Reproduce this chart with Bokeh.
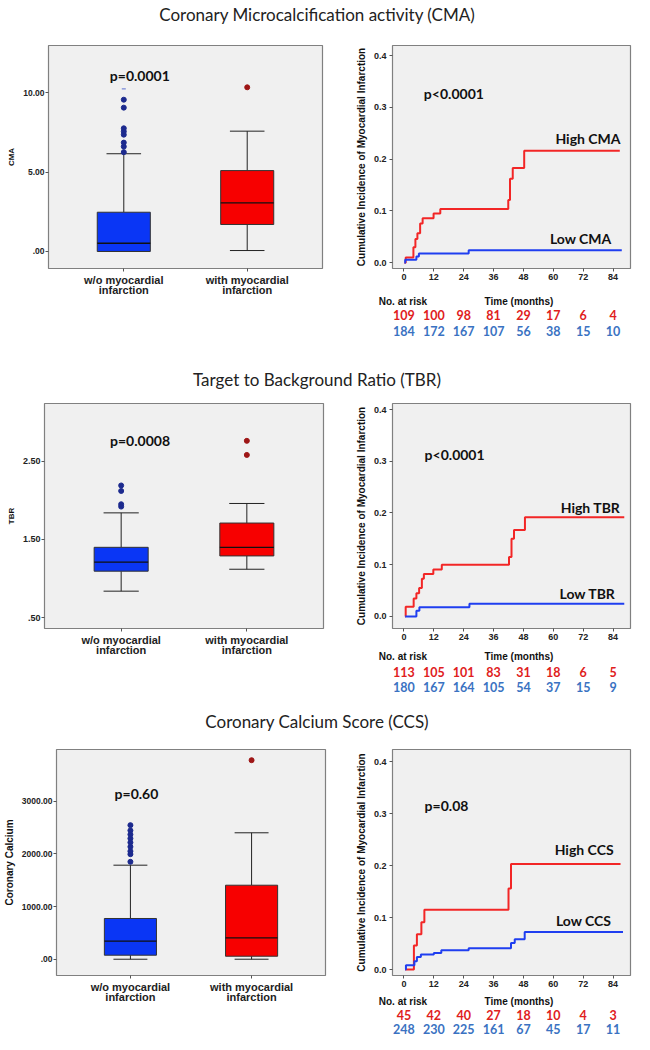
from bokeh.plotting import figure
from bokeh.layouts import column, row
from bokeh.models import (Div, ColumnDataSource, FixedTicker, Range1d, NumeralTickFormatter,
                          LinearAxis)
from bokeh.embed import file_html
from bokeh.resources import INLINE
from bokeh.core.properties import value

# ---------------- data ----------------
titles = ["Coronary Microcalcification activity (CMA)",
          "Target to Background Ratio (TBR)",
          "Coronary Calcium Score (CCS)"]
groups = ["w/o myocardial\ninfarction", "with myocardial\ninfarction"]

# box statistics: [w/o MI, with MI]
cma_q1 = [0.0, 1.70]
cma_med = [0.52, 3.06]
cma_q3 = [2.47, 5.09]
cma_lo = [0.0, 0.06]
cma_hi = [6.15, 7.57]
cma_out_wo = [6.25, 6.6, 6.85, 7.35, 7.55, 7.75, 9.05, 9.55]
cma_out_with = [10.33]
cma_extreme_wo = [10.23]
cma_ticks = [0, 5, 10]
cma_tick_labels = [".00", "5.00", "10.00"]

tbr_q1 = [1.095, 1.29]
tbr_med = [1.21, 1.40]
tbr_q3 = [1.40, 1.71]
tbr_lo = [0.84, 1.12]
tbr_hi = [1.84, 1.96]
tbr_out_wo = [1.92, 1.95, 2.12, 2.19]
tbr_out_with = [2.58, 2.76]
tbr_ticks = [0.5, 1.5, 2.5]
tbr_tick_labels = [".50", "1.50", "2.50"]

ccs_q1 = [76, 57]
ccs_med = [342, 406]
ccs_q3 = [773, 1405]
ccs_lo = [0, 0]
ccs_hi = [1785, 2400]
ccs_out_wo = [1849, 1994, 2051, 2134, 2216, 2292, 2368, 2444, 2545]
ccs_out_with = [3778]
ccs_ticks = [0, 1000, 2000, 3000]
ccs_tick_labels = [".00", "1000.00", "2000.00", "3000.00"]

box_pvals = ["p=0.0001", "p=0.0008", "p=0.60"]

# Kaplan-Meier cumulative incidence (months, value)
km_ticks = [0, 12, 24, 36, 48, 60, 72, 84]

cma_high_t = [0.2, 0.7, 3.8, 4.6, 5.4, 6.5, 7.5, 11.9, 14.6, 41.9, 42.6, 43.7, 48.3, 86.7]
cma_high_y = [0, 0.010, 0.030, 0.046, 0.057, 0.076, 0.086, 0.095, 0.104, 0.121, 0.162, 0.183, 0.216, 0.216]
cma_low_t = [0.2, 0.5, 5.0, 6.0, 26.0, 87.5]
cma_low_y = [0, 0.006, 0.012, 0.018, 0.024, 0.024]

tbr_high_t = [0.5, 0.7, 3.9, 5.0, 6.1, 7.2, 8.0, 11.8, 15.2, 42.2, 43.2, 44.2, 48.6, 88.5]
tbr_high_y = [0, 0.019, 0.035, 0.045, 0.055, 0.073, 0.082, 0.091, 0.100, 0.115, 0.150, 0.167, 0.192, 0.192]
tbr_low_t = [0.5, 5.0, 6.2, 26.3, 88.5]
tbr_low_y = [0, 0.011, 0.018, 0.0245, 0.0245]

ccs_high_t = [0.5, 4.0, 5.2, 7.0, 8.2, 42.0, 43.0, 87.0]
ccs_high_y = [0, 0.046, 0.068, 0.091, 0.115, 0.156, 0.203, 0.203]
ccs_low_t = [0.5, 0.8, 4.2, 5.2, 6.8, 12.0, 15.0, 26.0, 43.0, 44.5, 48.5, 88.0]
ccs_low_y = [0, 0.008, 0.016, 0.024, 0.029, 0.032, 0.037, 0.041, 0.051, 0.058, 0.072, 0.072]

cma_risk_high = [109, 100, 98, 81, 29, 17, 6, 4]
cma_risk_low = [184, 172, 167, 107, 56, 38, 15, 10]
tbr_risk_high = [113, 105, 101, 83, 31, 18, 6, 5]
tbr_risk_low = [180, 167, 164, 105, 54, 37, 15, 9]
ccs_risk_high = [45, 42, 40, 27, 18, 10, 4, 3]
ccs_risk_low = [248, 230, 225, 161, 67, 45, 17, 11]

km_pvals = ["p<0.0001", "p<0.0001", "p=0.08"]
km_high_names = ["High CMA", "High TBR", "High CCS"]
km_low_names = ["Low CMA", "Low TBR", "Low CCS"]
km_row_titles = ["No. at risk", "Time (months)"]

# ---------------- styles ----------------
BG = "#f0f0f0"
FRAME = "#808080"
BLUE_BOX = "#0a36f5"
RED_BOX = "#f70000"
BLUE_DOT = "#1c2a8e"
RED_DOT = "#9e1616"
RED_LINE = "#f22626"
BLUE_LINE = "#1f3ef0"
RED_TXT = "#e0201c"
BLUE_TXT = "#3a72c2"
SANS = "Liberation Sans"
CAL = "Lato"

BOX_W = 348            # width of each box-plot figure
KM_BL, KM_BR = 44, 4
KM_FW = 634 - BOX_W - KM_BL - KM_BR
KM_X = (-4.6, 91.0)
NAR_X = -0.4           # tick position of the "No. at risk" caption
TIME_X = 46.2          # tick position of the "Time (months)" caption


def style_axis(ax, tick_size, label_size="9px"):
    ax.axis_line_color = None
    ax.major_tick_out = 3
    ax.major_tick_in = 0
    ax.minor_tick_line_color = None
    ax.major_tick_line_color = "#555555"
    ax.major_label_text_font = SANS
    ax.major_label_text_font_style = "bold"
    ax.major_label_text_font_size = tick_size
    ax.major_label_text_color = "#222222"
    ax.major_label_standoff = 2
    ax.axis_label_text_font = SANS
    ax.axis_label_text_font_style = "bold"
    ax.axis_label_text_font_size = label_size
    ax.axis_label_text_color = "#111111"


def style_axes(p, tick_size="8.5px", label_size="9px"):
    for ax in (p.xaxis + p.yaxis):
        style_axis(ax, tick_size, label_size)
    p.xgrid.grid_line_color = None
    p.ygrid.grid_line_color = None


def make_fig(fw, fh, yr, xr, borders):
    t, b, l, r = borders
    p = figure(width=l + fw + r, height=t + fh + b,
               x_range=Range1d(*xr), y_range=Range1d(*yr),
               output_backend="svg", toolbar_location=None,
               background_fill_color=BG, border_fill_color="white",
               outline_line_color=FRAME, outline_line_width=1.2,
               min_border=0, min_border_top=t, min_border_bottom=b,
               min_border_left=l, min_border_right=r)
    return p


def box_panel(q1, med, q3, lo, hi, out_wo, out_with, ticks, tick_labels, ylabel,
              yr, pval, pval_xy, left, fh, top, bottom, tick_size, label_size, extreme=None):
    fw = 274 if left == 48 else (279 if left == 44 else 272)
    p = make_fig(fw, fh, yr, (0.39, 2.61), (top, bottom, left, BOX_W - left - fw))
    xs = [1, 2]
    bw = 0.43
    cw = 0.14
    src = ColumnDataSource(dict(x=xs, q1=q1, q3=q3, med=med, lo=lo, hi=hi,
                                c=[BLUE_BOX, RED_BOX],
                                xl=[x - bw / 2 for x in xs], xr=[x + bw / 2 for x in xs],
                                cl=[x - cw for x in xs], cr=[x + cw for x in xs]))
    p.segment(x0="x", y0="q3", x1="x", y1="hi", source=src, line_color="#222222", line_width=1)
    p.segment(x0="x", y0="lo", x1="x", y1="q1", source=src, line_color="#222222", line_width=1)
    p.segment(x0="cl", y0="hi", x1="cr", y1="hi", source=src, line_color="#222222", line_width=1)
    p.segment(x0="cl", y0="lo", x1="cr", y1="lo", source=src, line_color="#222222", line_width=1)
    p.vbar(x="x", width=bw, bottom="q1", top="q3", fill_color="c", line_color="#333333",
           line_width=1, source=src)
    p.segment(x0="xl", y0="med", x1="xr", y1="med", source=src, line_color="#111111", line_width=1.3)
    p.scatter([1] * len(out_wo), out_wo, size=5, fill_color=BLUE_DOT, line_color=BLUE_DOT)
    p.scatter([2] * len(out_with), out_with, size=5, fill_color=RED_DOT, line_color=RED_DOT)
    if extreme:
        p.scatter([1] * len(extreme), extreme, marker="dash", size=4, line_color="#5b6fd0",
                  line_width=1)
    p.text(x=[pval_xy[0]], y=[pval_xy[1]], text=[pval], text_font=value(CAL),
           text_font_style="bold", text_font_size="14px", text_align="center",
           text_baseline="middle", text_color="#111111")
    style_axes(p, tick_size, label_size)
    p.xaxis.ticker = FixedTicker(ticks=xs)
    p.xaxis.major_label_overrides = {xs[i]: groups[i] for i in range(2)}
    p.xaxis.major_label_text_font_size = "11px"
    p.xaxis.major_label_text_line_height = 0.85
    p.yaxis.ticker = FixedTicker(ticks=ticks)
    p.yaxis.major_label_overrides = {ticks[i]: tick_labels[i] for i in range(len(ticks))}
    p.yaxis.axis_label = ylabel
    p.yaxis.axis_label_standoff = 4
    p.yaxis.major_label_standoff = 1
    return p


def text_axis(ticks, labels, standoff, size, font, color):
    ax = LinearAxis(ticker=FixedTicker(ticks=ticks),
                    major_label_overrides={ticks[i]: labels[i] for i in range(len(ticks))})
    style_axis(ax, size)
    ax.major_tick_line_color = None
    ax.major_tick_out = 0
    ax.major_label_standoff = standoff
    ax.major_label_text_font = font
    ax.major_label_text_color = color
    return ax


def km_panel(ht, hy, lt, ly, rh, rl, hname, lname, pval, pval_xy, hxy, lxy, yr, fh, top, bottom,
             standoffs):
    p = make_fig(KM_FW, fh, yr, KM_X, (top, bottom, KM_BL, KM_BR))
    p.step(ht, hy, mode="after", line_color=RED_LINE, line_width=2)
    p.step(lt, ly, mode="after", line_color=BLUE_LINE, line_width=2)
    p.text(x=[pval_xy[0]], y=[pval_xy[1]], text=[pval], text_font=value(CAL),
           text_font_style="bold", text_font_size="14px", text_align="left",
           text_baseline="middle", text_color="#111111")
    p.text(x=[hxy[0], lxy[0]], y=[hxy[1], lxy[1]], text=[hname, lname],
           text_font=value(CAL), text_font_style="bold", text_font_size="14px",
           text_align="right", text_baseline="middle", text_color="#111111")
    style_axes(p, "9px", "10px")
    p.xaxis.ticker = FixedTicker(ticks=km_ticks)
    p.yaxis.ticker = FixedTicker(ticks=[0, 0.1, 0.2, 0.3, 0.4])
    p.yaxis.formatter = NumeralTickFormatter(format="0.0")
    p.yaxis.axis_label = "Cumulative Incidence of Myocardial Infarction"
    p.yaxis.axis_label_standoff = 4
    p.yaxis.major_label_standoff = 3
    # caption row, then the two number-at-risk rows, aligned on the month ticks
    p.add_layout(text_axis([NAR_X, TIME_X], km_row_titles, standoffs[0], "10px", SANS,
                           "#111111"), "below")
    p.add_layout(text_axis(km_ticks, [str(v) for v in rh], standoffs[1], "12.5px", CAL,
                           RED_TXT), "below")
    p.add_layout(text_axis(km_ticks, [str(v) for v in rl], standoffs[2], "12.5px", CAL,
                           BLUE_TXT), "below")
    return p


def title_div(txt, h):
    return Div(text=txt, width=634, height=h, margin=0,
               styles={"font-family": CAL, "font-size": "17px", "text-align": "center",
                       "line-height": f"{h}px", "color": "#222222", "width": "634px"})


# row 1: frame 45..268 (row starts at 30, height 338)
box1 = box_panel(cma_q1, cma_med, cma_q3, cma_lo, cma_hi, cma_out_wo, cma_out_with,
                 cma_ticks, cma_tick_labels, "CMA", (-1.07, 12.96), box_pvals[0], (1.13, 11.07),
                 48, 223, 15, 100, "8.5px", "8px", extreme=cma_extreme_wo)
km1 = km_panel(cma_high_t, cma_high_y, cma_low_t, cma_low_y, cma_risk_high, cma_risk_low,
               km_high_names[0], km_low_names[0], km_pvals[0], (8.0, 0.327),
               (87.0, 0.240), (83.4, 0.047), (-0.011, 0.4193), 223, 15, 100, (13, 0, 3))

# row 2: frame 403..628 (row starts at 392, height 318)
box2 = box_panel(tbr_q1, tbr_med, tbr_q3, tbr_lo, tbr_hi, tbr_out_wo, tbr_out_with,
                 tbr_ticks, tbr_tick_labels, "TBR", (0.363, 3.237), box_pvals[1], (1.15, 2.76),
                 44, 225, 11, 82, "9px", "8px")
km2 = km_panel(tbr_high_t, tbr_high_y, tbr_low_t, tbr_low_y, tbr_risk_high, tbr_risk_low,
               km_high_names[1], km_low_names[1], km_pvals[1], (8.3, 0.314),
               (86.9, 0.211), (85.0, 0.045), (-0.0232, 0.4116), 225, 11, 82, (8, 2, 2))

# row 3: frame 749..975 (row starts at 734, height 306)
box3 = box_panel(ccs_q1, ccs_med, ccs_q3, ccs_lo, ccs_hi, ccs_out_wo, ccs_out_with,
                 ccs_ticks, ccs_tick_labels, "Coronary Calcium", (-309, 3981), box_pvals[2],
                 (1.05, 3146), 53, 226, 15, 65, "8.5px", "10px")
km3 = km_panel(ccs_high_t, ccs_high_y, ccs_low_t, ccs_low_y, ccs_risk_high, ccs_risk_low,
               km_high_names[2], km_low_names[2], km_pvals[2], (8.3, 0.316),
               (84.2, 0.230), (83.3, 0.095), (-0.0115, 0.4231), 226, 15, 65, (6, 0, 1))

layout = column(title_div(titles[0], 30), row(box1, km1),
                title_div(titles[1], 24), row(box2, km2),
                title_div(titles[2], 24), row(box3, km3))

open("out.html", "w").write(file_html(layout, INLINE))
